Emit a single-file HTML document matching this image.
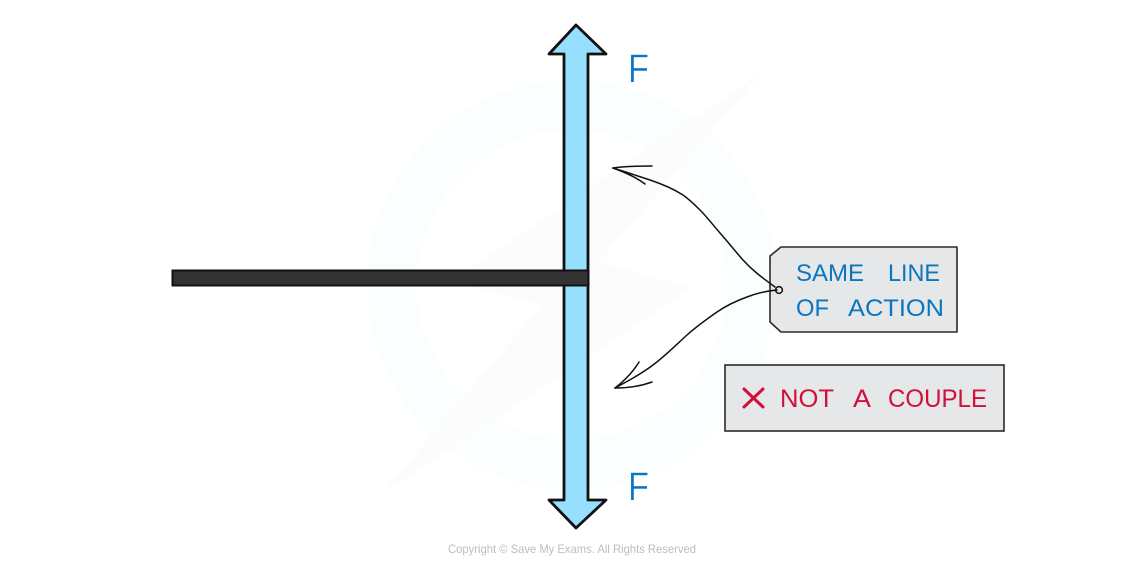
<!DOCTYPE html>
<html>
<head>
<meta charset="utf-8">
<style>
html,body{margin:0;padding:0;background:#fff;width:1144px;height:571px;overflow:hidden}
svg{display:block}
text{font-family:"Liberation Sans",sans-serif}
</style>
</head>
<body>
<svg width="1144" height="571" viewBox="0 0 1144 571" xmlns="http://www.w3.org/2000/svg">
<rect width="1144" height="571" fill="#fff"/>
<!-- watermark -->
<circle cx="572" cy="285" r="180" fill="none" stroke="#fbfeff" stroke-width="50"/>
<polygon points="763,72 598,262 693,288 383,493 542,305 450,282 590,187" fill="#fcfcfc"/>
<!-- arrow -->
<path d="M576,25 L606,54 L588,54 L588,500 L606,500 L576,528 L549,500 L564,500 L564,54 L549,54 Z" fill="#96dffd" stroke="#111" stroke-width="2.8" stroke-linejoin="round"/>
<!-- bar -->
<rect x="172.5" y="270.5" width="416" height="15" fill="#333" stroke="#111" stroke-width="2"/>
<!-- F labels -->
<text x="628" y="82" font-size="40" fill="#0b76c0" stroke="#fff" stroke-width="0.5" textLength="21" lengthAdjust="spacingAndGlyphs">F</text>
<text x="628" y="500" font-size="40" fill="#0b76c0" stroke="#fff" stroke-width="0.5" textLength="21" lengthAdjust="spacingAndGlyphs">F</text>
<!-- tag -->
<path d="M781,247 L957,247 L957,332 L781,332 L770,322 L770,256 Z" fill="#e6e7e8" stroke="#2a2a2a" stroke-width="1.6" stroke-linejoin="round"/>
<circle cx="779" cy="290" r="3.4" fill="#e6e7e8" stroke="#111" stroke-width="1.5"/>
<text x="796" y="281" font-size="24" fill="#0b76c0" textLength="68" lengthAdjust="spacingAndGlyphs">SAME</text>
<text x="888" y="281" font-size="24" fill="#0b76c0" textLength="52" lengthAdjust="spacingAndGlyphs">LINE</text>
<text x="796" y="316" font-size="24" fill="#0b76c0" textLength="33" lengthAdjust="spacingAndGlyphs">OF</text>
<text x="848" y="316" font-size="24" fill="#0b76c0" textLength="96" lengthAdjust="spacingAndGlyphs">ACTION</text>
<!-- box -->
<rect x="725" y="365" width="279" height="66" fill="#e6e7e8" stroke="#2a2a2a" stroke-width="1.6"/>
<path d="M744,389 L763,407 M763,389 L744,407" stroke="#d0103a" stroke-width="3" fill="none" stroke-linecap="round"/>
<text x="780" y="407" font-size="25" fill="#d0103a" textLength="54" lengthAdjust="spacingAndGlyphs">NOT</text>
<text x="853" y="407" font-size="25" fill="#d0103a" textLength="18" lengthAdjust="spacingAndGlyphs">A</text>
<text x="888" y="407" font-size="25" fill="#d0103a" textLength="99" lengthAdjust="spacingAndGlyphs">COUPLE</text>
<!-- connectors -->
<g fill="none" stroke="#111" stroke-width="1.5" stroke-linecap="round">
<path d="M775,287 C760,276 752,270 743,260 C735,251 728,242 720,233 C713,225 707,217 700,210 C694,204 690,200 683,195 C672,188 662,184 650,180 C638,176 626,172 613,168"/>
<path d="M613,168 C626,166 640,166 652,166"/>
<path d="M613,168 C624,172 636,177 645,184"/>
<path d="M777,290 C766,291 757,293 747,297 C736,301 727,305 717,312 C707,319 697,326 687,335 C676,345 665,356 653,365 C641,374 628,381 615,388"/>
<path d="M615,388 C624,381 633,372 639,362"/>
<path d="M615,388 C628,388 641,386 652,382"/>
</g>
<!-- copyright -->
<text x="448" y="553" font-size="12" fill="#bdbdbd" textLength="248" lengthAdjust="spacingAndGlyphs">Copyright © Save My Exams. All Rights Reserved</text>
</svg>
</body>
</html>
